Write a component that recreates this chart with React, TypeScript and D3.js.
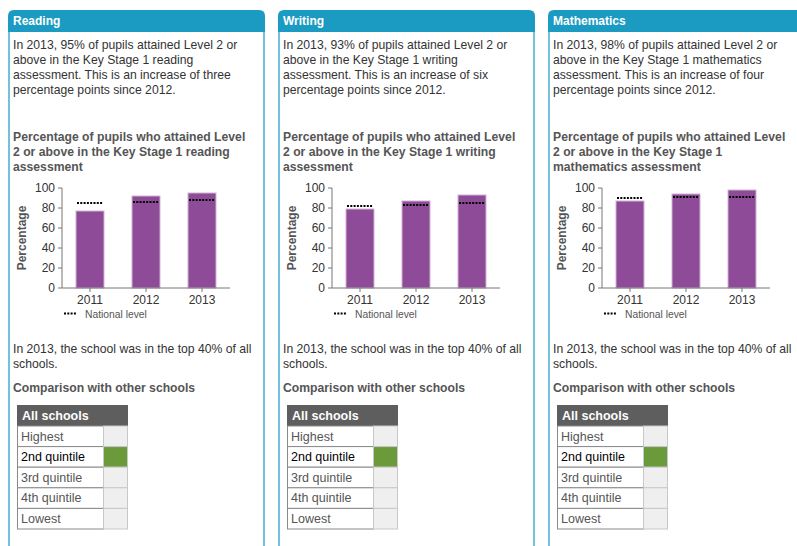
import React from "react";
import * as d3 from "d3";

const years = ["2011", "2012", "2013"];
const subjects = ["Reading", "Writing", "Mathematics"];
const schoolValues = [
  [77, 92, 95],
  [79, 87, 93],
  [87, 94, 98],
];
const nationalValues = [
  [85, 86, 88],
  [82, 83, 85],
  [90, 91, 91],
];
const introLines = [
  ["In 2013, 95% of pupils attained Level 2 or", "above in the Key Stage 1 reading", "assessment. This is an increase of three", "percentage points since 2012."],
  ["In 2013, 93% of pupils attained Level 2 or", "above in the Key Stage 1 writing", "assessment. This is an increase of six", "percentage points since 2012."],
  ["In 2013, 98% of pupils attained Level 2 or", "above in the Key Stage 1 mathematics", "assessment. This is an increase of four", "percentage points since 2012."],
];
const titleLines = [
  ["Percentage of pupils who attained Level", "2 or above in the Key Stage 1 reading", "assessment"],
  ["Percentage of pupils who attained Level", "2 or above in the Key Stage 1 writing", "assessment"],
  ["Percentage of pupils who attained Level", "2 or above in the Key Stage 1", "mathematics assessment"],
];
const yTicks = [0, 20, 40, 60, 80, 100];
const quintiles = ["Highest", "2nd quintile", "3rd quintile", "4th quintile", "Lowest"];
const schoolQuintile = [1, 1, 1];
const topText = ["In 2013, the school was in the top 40% of all", "schools."];

const FONT = "'Liberation Sans', Arial, sans-serif";
const BLUE = "#1b9bc1";
const LIGHTBLUE = "#72c2dd";
const BAR = "#8e4b97";

function Panel({ i }: { i: number }) {
  const left = 8 + i * 270;
  const w = 257;
  const axisX = 54;
  const chartTop = 188;
  const chartH = 100;
  const x = d3.scaleBand<string>().domain(years).range([0, 168]).paddingInner(0.5).paddingOuter(0.25);
  const y = d3.scaleLinear().domain([0, 100]).range([chartH, 0]);
  const r = 6;
  const headerPath = `M0,32 L0,${10 + r} Q0,10 ${r},10 L${w - r},10 Q${w},10 ${w},${10 + r} L${w},32 Z`;
  return (
    <g transform={`translate(${left},0)`}>
      <rect x={1} y={31} width={w - 2} height={540} fill="#fff" stroke={LIGHTBLUE} strokeWidth={2} />
      <path d={headerPath} fill={BLUE} />
      <text x={5} y={25} fill="#fff" fontWeight="bold" fontSize={12}>{subjects[i]}</text>
      {introLines[i].map((l, k) => (
        <text key={k} x={5} y={49 + k * 15} fill="#333" fontSize={12.2}>{l}</text>
      ))}
      {titleLines[i].map((l, k) => (
        <text key={k} x={5} y={141 + k * 15} fill="#555" fontSize={12.2} fontWeight="bold">{l}</text>
      ))}
      <g transform={`translate(${axisX},${chartTop})`}>
        {schoolValues[i].map((v, k) => (
          <rect key={k} x={x(years[k])!} y={y(v)} width={x.bandwidth()} height={chartH - y(v)} fill={BAR} stroke="#d2b3d6" strokeWidth={1} />
        ))}
        {nationalValues[i].map((v, k) => (
          <line key={k} x1={x(years[k])! + 1} x2={x(years[k])! + x.bandwidth() - 1} y1={y(v)} y2={y(v)} stroke="#000" strokeWidth={2} strokeDasharray="2,1.3" />
        ))}
        <line x1={0} x2={0} y1={0} y2={chartH} stroke="#777" strokeWidth={1} />
        <line x1={0} x2={168} y1={chartH} y2={chartH} stroke="#777" strokeWidth={1} />
        {yTicks.map((t) => (
          <g key={t} transform={`translate(0,${y(t)})`}>
            <line x1={-4} x2={0} stroke="#777" />
            <text x={-7} dy="0.36em" textAnchor="end" fontSize={12} fill="#333">{t}</text>
          </g>
        ))}
        {years.map((yr) => (
          <g key={yr} transform={`translate(${x(yr)! + x.bandwidth() / 2},${chartH})`}>
            <line y1={0} y2={4} stroke="#777" />
            <text y={15.5} textAnchor="middle" fontSize={12} fill="#333">{yr}</text>
          </g>
        ))}
      </g>
      <text transform={`translate(18,238) rotate(-90)`} textAnchor="middle" fontSize={12} fontWeight="bold" fill="#555">Percentage</text>
      <line x1={56} x2={68} y1={313.5} y2={313.5} stroke="#000" strokeWidth={2} strokeDasharray="2,1.3" />
      <text x={77} y={318} fontSize={10.3} fill="#555">National level</text>
      {topText.map((l, k) => (
        <text key={k} x={5} y={353 + k * 15} fill="#333" fontSize={12.2}>{l}</text>
      ))}
      <text x={5} y={392} fill="#555" fontSize={12.2} fontWeight="bold">Comparison with other schools</text>
      <g transform="translate(9,405)">
        <rect x={0} y={0} width={111} height={21} fill="#5e5e5e" />
        <text x={5} y={14.5} fill="#fff" fontSize={12.5} fontWeight="bold">All schools</text>
        {quintiles.map((q, k) => {
          const ry = 21 + k * 20.6;
          const hi = k === schoolQuintile[i];
          return (
            <g key={q}>
              <rect x={0.5} y={ry} width={86} height={20.6} fill="#fff" stroke="#8a8a8a" strokeWidth={1} />
              <rect x={86.5} y={ry} width={24} height={20.6} fill={hi ? "#6a9a3a" : "#efefef"} stroke="#c8c8c8" strokeWidth={1} />
              <text x={4} y={ry + 14.5} fontSize={12.5} fill={hi ? "#000" : "#555"}>{q}</text>
            </g>
          );
        })}
      </g>
    </g>
  );
}

export default function App() {
  return (
    <svg width={797} height={546} style={{ position: "absolute", left: 0, top: 0, fontFamily: FONT }} fontFamily={FONT}>
      <rect width={797} height={546} fill="#fff" />
      {subjects.map((s, i) => (
        <Panel key={s} i={i} />
      ))}
    </svg>
  );
}
